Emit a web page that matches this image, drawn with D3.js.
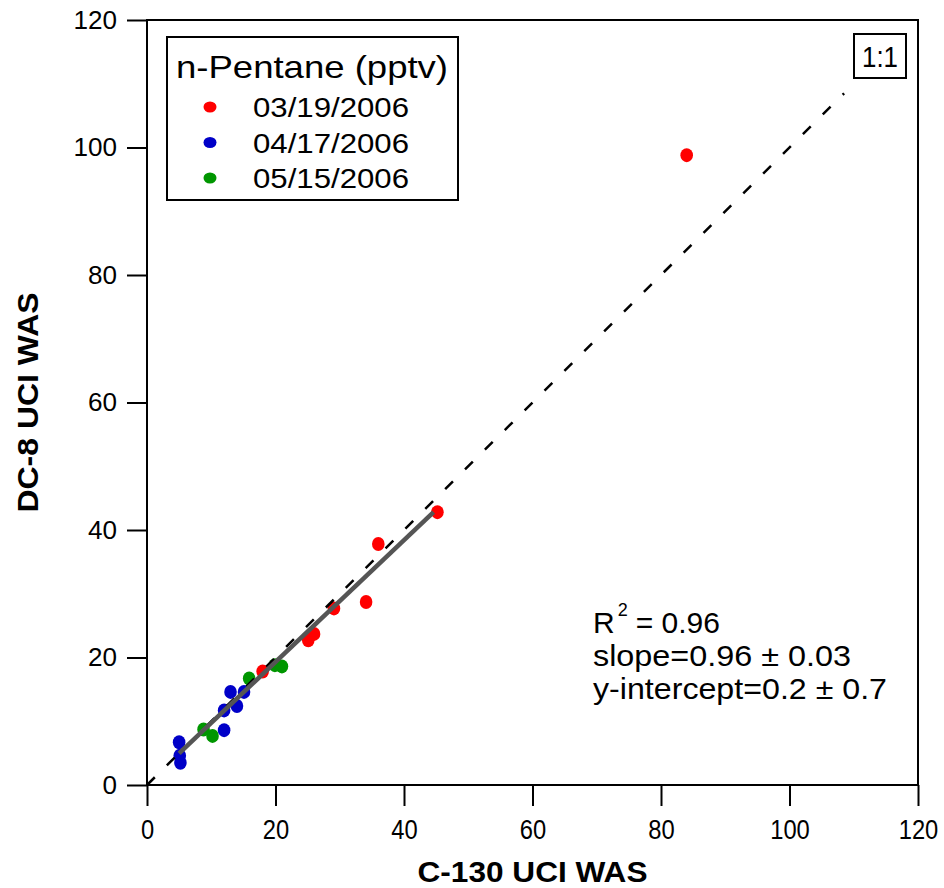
<!DOCTYPE html>
<html><head><meta charset="utf-8">
<script src="https://cdn.jsdelivr.net/npm/d3@7"></script>
<style>body{margin:0;background:#fff}svg{display:block}text{font-family:"Liberation Sans",Arial,sans-serif}</style>
</head><body>
<script>
// ---- data ----
const seriesNames = ["03/19/2006", "04/17/2006", "05/15/2006"];
const seriesColors = ["#ff0000", "#0000c8", "#009600"];
const redX = [84, 45.2, 36, 34.1, 29.1, 26.0, 25.1, 18.0];
const redY = [98.8, 42.8, 37.8, 28.7, 27.7, 23.7, 22.7, 17.8];
const blueX = [5.0, 5.1, 5.2, 12.0, 12.0, 14.0, 13.0, 15.1];
const blueY = [6.7, 4.6, 3.5, 8.6, 11.7, 12.4, 14.6, 14.6];
const greenX = [8.8, 10.2, 15.9, 19.9, 21.0];
const greenY = [8.7, 7.7, 16.7, 18.8, 18.6];
const xTicks = [0, 20, 40, 60, 80, 100, 120];
const yTicks = [0, 20, 40, 60, 80, 100, 120];
const fitSlope = 0.955, fitIntercept = 0.2;
const fitRange = [5, 44.6];
const oneToOneRange = [0, 108.5];
const legendTitle = "n-Pentane (pptv)";
const xTitle = "C-130 UCI WAS";
const yTitle = "DC-8 UCI WAS";
const statLines = ["slope=0.96 \u00b1 0.03", "y-intercept=0.2 \u00b1 0.7"];

const W = 944, H = 888;
const svg = d3.select("body").append("svg").attr("width", W).attr("height", H);
const x = d3.scaleLinear().domain([0, 120]).range([147, 918]);
const y = d3.scaleLinear().domain([0, 120]).range([785, 20]);

const series = [
  {name: seriesNames[0], color: seriesColors[0], xs: redX, ys: redY},
  {name: seriesNames[1], color: seriesColors[1], xs: blueX, ys: blueY},
  {name: seriesNames[2], color: seriesColors[2], xs: greenX, ys: greenY}
];

// frame
svg.append("rect").attr("x", x(0)).attr("y", y(120)).attr("width", x(120) - x(0)).attr("height", y(0) - y(120))
  .attr("fill", "none").attr("stroke", "#000").attr("stroke-width", 2);

// axes
const xAxis = svg.append("g").attr("transform", `translate(0,${y(0)})`)
  .call(d3.axisBottom(x).tickValues(xTicks).tickSize(21).tickPadding(12).tickFormat(d3.format("d")));
xAxis.select(".domain").remove();
xAxis.selectAll("line").attr("stroke", "#000").attr("stroke-width", 2);
xAxis.selectAll("text").attr("font-size", 27).attr("fill", "#000").attr("font-family", "Liberation Sans, Arial, sans-serif")
  .attr("dy", "0.76em")
  .attr("textLength", d => String(d).length * 13.2).attr("lengthAdjust", "spacingAndGlyphs");

const yAxis = svg.append("g").attr("transform", `translate(${x(0)},0)`)
  .call(d3.axisLeft(y).tickValues(yTicks).tickSize(20).tickPadding(10).tickFormat(d3.format("d")));
yAxis.select(".domain").remove();
yAxis.selectAll("line").attr("stroke", "#000").attr("stroke-width", 2);
yAxis.selectAll("text").attr("font-size", 25).attr("fill", "#000").attr("font-family", "Liberation Sans, Arial, sans-serif")
  .attr("textLength", d => String(d).length * 14.5).attr("lengthAdjust", "spacingAndGlyphs");

// points
series.forEach(s => {
  svg.append("g").selectAll("ellipse").data(s.xs.map((v, i) => [v, s.ys[i]])).join("ellipse")
    .attr("cx", d => x(d[0])).attr("cy", d => y(d[1])).attr("rx", 6.3).attr("ry", 7).attr("fill", s.color);
});

// 1:1 line
svg.append("line").attr("x1", x(oneToOneRange[0])).attr("y1", y(oneToOneRange[0]))
  .attr("x2", x(oneToOneRange[1])).attr("y2", y(oneToOneRange[1]))
  .attr("stroke", "#000").attr("stroke-width", 2.5).attr("stroke-dasharray", "11,17");

// fit line
svg.append("line").attr("x1", x(fitRange[0])).attr("y1", y(fitSlope * fitRange[0] + fitIntercept))
  .attr("x2", x(fitRange[1])).attr("y2", y(fitSlope * fitRange[1] + fitIntercept))
  .attr("stroke", "#555").attr("stroke-width", 4.5);

// 1:1 box
svg.append("rect").attr("x", 854).attr("y", 34).attr("width", 52).attr("height", 44)
  .attr("fill", "#fff").attr("stroke", "#000").attr("stroke-width", 2);
svg.append("text").attr("x", 880).attr("y", 67).attr("text-anchor", "middle").attr("font-size", 29)
  .attr("textLength", 36).attr("lengthAdjust", "spacingAndGlyphs").text("1:1");

// legend
const lg = svg.append("g");
lg.append("rect").attr("x", 167).attr("y", 37).attr("width", 291).attr("height", 163)
  .attr("fill", "#fff").attr("stroke", "#000").attr("stroke-width", 2);
lg.append("text").attr("x", 176).attr("y", 78).attr("font-size", 32)
  .attr("textLength", 272).attr("lengthAdjust", "spacingAndGlyphs").text(legendTitle);
series.forEach((s, i) => {
  const cy = 107 + i * 35.5;
  lg.append("ellipse").attr("cx", 210).attr("cy", cy).attr("rx", 6.5).attr("ry", 5.5).attr("fill", s.color);
  lg.append("text").attr("x", 253).attr("y", cy + 10).attr("font-size", 28.5)
    .attr("textLength", 156).attr("lengthAdjust", "spacingAndGlyphs").text(s.name);
});

// stats
const st = svg.append("g").attr("font-size", 30);
const r2 = st.append("text").attr("x", 593).attr("y", 633);
r2.append("tspan").text("R");
r2.append("tspan").attr("font-size", 18).attr("dy", -17).attr("dx", 3).text("2");
r2.append("tspan").attr("dy", 17).attr("dx", 8).text("= 0.96");
st.append("text").attr("x", 593).attr("y", 666).attr("textLength", 258).attr("lengthAdjust", "spacingAndGlyphs").text(statLines[0]);
st.append("text").attr("x", 593).attr("y", 699).attr("textLength", 294).attr("lengthAdjust", "spacingAndGlyphs").text(statLines[1]);

// axis titles
svg.append("text").attr("x", (x(0) + x(120)) / 2).attr("y", 882).attr("text-anchor", "middle")
  .attr("font-size", 29).attr("font-weight", "bold").attr("textLength", 230).attr("lengthAdjust", "spacingAndGlyphs").text(xTitle);
svg.append("text").attr("transform", `translate(38,${(y(0) + y(120)) / 2}) rotate(-90)`).attr("text-anchor", "middle")
  .attr("font-size", 29).attr("font-weight", "bold").attr("textLength", 220).attr("lengthAdjust", "spacingAndGlyphs").text(yTitle);
</script>
</body></html>
